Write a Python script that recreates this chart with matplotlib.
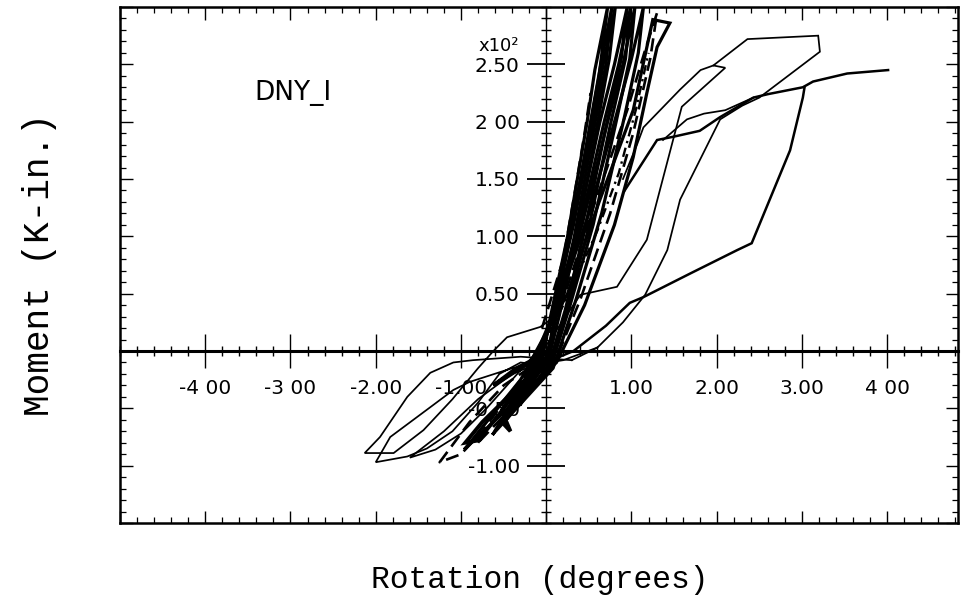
import matplotlib
matplotlib.use("Agg")
import matplotlib.pyplot as plt
from matplotlib.ticker import MultipleLocator

# ---------------- data (rotation in degrees, moment in K-in. x10^2) ----------------
# small near-elastic cycles (steep band)
cyc_01 = [(-0.22, -0.38), (-0.05, -0.08), (0.05, 0.30), (0.25, 1.00), (0.48, 2.00), (0.57, 2.45), (0.72, 3.00),
          (0.62, 2.40), (0.42, 1.55), (0.20, 0.70), (0.05, 0.10), (-0.05, -0.20), (-0.22, -0.38)]
cyc_02 = [(-0.30, -0.46), (-0.08, -0.10), (0.10, 0.40), (0.32, 1.10), (0.55, 2.00), (0.68, 2.55), (0.81, 3.00),
          (0.74, 2.55), (0.58, 1.90), (0.36, 1.00), (0.15, 0.30), (0.00, -0.15), (-0.30, -0.46)]
cyc_03 = [(-0.40, -0.52), (-0.12, -0.12), (0.12, 0.40), (0.36, 1.05), (0.63, 2.00), (0.80, 2.50), (0.95, 3.00),
          (0.88, 2.55), (0.70, 1.95), (0.45, 1.05), (0.22, 0.35), (0.02, -0.15), (-0.40, -0.52)]
cyc_04 = [(-0.50, -0.62), (-0.15, -0.15), (0.15, 0.45), (0.42, 1.10), (0.72, 2.00), (0.90, 2.50), (1.04, 3.00),
          (0.98, 2.55), (0.82, 2.00), (0.55, 1.10), (0.28, 0.40), (0.05, -0.15), (-0.50, -0.62)]
cyc_05 = [(-0.62, -0.72), (-0.20, -0.18), (0.18, 0.50), (0.50, 1.20), (0.82, 2.05), (1.00, 2.55), (1.14, 3.00),
          (1.08, 2.60), (0.92, 2.05), (0.65, 1.20), (0.35, 0.45), (0.08, -0.15), (-0.62, -0.72)]
cyc_06 = [(-0.80, -0.80), (-0.25, -0.22), (0.20, 0.45), (0.55, 1.25), (0.95, 2.10), (1.15, 2.60), (1.30, 2.95),
          (1.22, 2.55), (1.02, 1.90), (0.75, 1.20), (0.40, 0.45), (0.10, -0.10), (-0.80, -0.80)]
cyc_07 = [(-0.95, -0.85), (-0.30, -0.25), (0.25, 0.50), (0.62, 1.30), (1.02, 2.10), (1.25, 2.89), (1.45, 2.86),
          (1.30, 2.65), (1.18, 2.25), (1.02, 1.69), (0.80, 1.10), (0.45, 0.40), (0.12, -0.10), (-0.95, -0.85)]
cyc_08 = [(-0.55, -0.66), (-0.10, -0.05), (0.30, 0.55), (0.60, 1.05), (0.85, 1.55), (1.05, 2.10), (1.20, 2.60)]
cyc_09 = [(-0.35, -0.48), (-0.10, -0.12), (0.08, 0.35), (0.28, 1.00), (0.52, 2.00), (0.64, 2.50), (0.77, 3.00),
          (0.70, 2.50), (0.55, 1.90), (0.33, 1.00), (0.12, 0.30), (-0.02, -0.12), (-0.35, -0.48)]
cyc_10 = [(-0.45, -0.58), (-0.12, -0.14), (0.14, 0.45), (0.40, 1.10), (0.68, 2.00), (0.85, 2.50), (0.99, 3.00),
          (0.93, 2.55), (0.76, 2.00), (0.50, 1.08), (0.25, 0.38), (0.04, -0.14), (-0.45, -0.58)]
cyc_11 = [(-0.05, 0.20), (0.20, 0.80), (0.35, 1.45), (0.45, 1.90), (0.52, 2.25)]

# larger cycles on the positive side
loop_21 = [(0.00, 0.05), (0.40, 0.49), (0.83, 0.56), (1.18, 0.97), (1.59, 2.13), (2.10, 2.47), (1.96, 2.49),
           (1.81, 2.45), (1.57, 2.28), (1.14, 1.95), (1.07, 1.81), (0.90, 1.50)]
loop_32 = [(1.96, 2.49), (2.36, 2.72), (3.19, 2.75), (3.21, 2.61), (2.50, 2.21), (2.30, 2.14), (2.04, 2.02),
           (1.57, 1.32), (1.42, 0.88), (1.16, 0.49), (0.90, 0.25), (0.60, 0.03), (0.30, -0.08)]
curve_40 = [(0.92, 1.40), (1.30, 1.84), (1.50, 1.87), (1.80, 1.92), (2.04, 2.04), (2.43, 2.21), (2.60, 2.24),
            (3.01, 2.30), (3.13, 2.35), (3.53, 2.42), (4.01, 2.45)]
lens_40 = [(1.37, 1.84), (1.65, 2.02), (1.85, 2.07), (2.10, 2.10), (2.43, 2.21)]
reload_40 = [(-0.07, -0.12), (0.32, 0.00), (0.70, 0.22), (0.98, 0.42), (1.14, 0.47), (1.70, 0.68),
             (2.24, 0.88), (2.41, 0.94), (2.86, 1.75), (3.01, 2.21), (3.03, 2.30)]

# larger cycles on the negative side
neg_01 = [(0.30, -0.08), (-0.30, -0.05), (-0.86, -0.08), (-1.09, -0.10), (-1.36, -0.19), (-1.63, -0.40),
          (-1.95, -0.75), (-2.13, -0.89), (-1.79, -0.89), (-1.44, -0.69), (-1.10, -0.42), (-0.80, -0.15),
          (-0.62, 0.00), (-0.46, 0.12), (-0.07, 0.21), (0.10, 0.30)]
neg_02 = [(0.60, 0.03), (0.20, -0.08), (-0.40, -0.15), (-0.90, -0.27), (-1.09, -0.34), (-1.36, -0.49),
          (-1.83, -0.75), (-2.00, -0.97), (-1.63, -0.92), (-1.40, -0.85), (-1.10, -0.70), (-0.80, -0.45),
          (-0.55, -0.20), (-0.30, -0.10), (-0.07, -0.12)]
neg_03 = [(0.10, -0.05), (-0.40, -0.20), (-0.80, -0.42), (-1.20, -0.70), (-1.60, -0.93), (-1.30, -0.86),
          (-1.00, -0.72), (-0.70, -0.50), (-0.40, -0.25), (-0.10, 0.00)]
neg_04 = [(0.00, -0.05), (-0.50, -0.30), (-0.90, -0.62), (-1.25, -0.97), (-1.00, -0.90), (-0.75, -0.70),
          (-0.45, -0.40), (-0.15, -0.10)]
neg_05 = [(0.05, -0.05), (-0.45, -0.40), (-0.75, -0.62), (-0.95, -0.80), (-0.80, -0.78), (-0.55, -0.55),
          (-0.30, -0.30), (-0.05, -0.08)]
neg_06 = [(0.05, -0.05), (-0.30, -0.35), (-0.52, -0.62), (-0.42, -0.70), (-0.50, -0.56), (-0.25, -0.30)]
neg_07 = [(0.00, -0.02), (-0.35, -0.15), (-0.62, -0.30), (-0.45, -0.22), (-0.15, -0.08)]

series_solid = [cyc_01, cyc_02, cyc_03, cyc_04, cyc_05, cyc_07, cyc_09, cyc_10]
series_dashed = [cyc_06, neg_04, cyc_11]
series_dashdot = [cyc_08]
series_big = [loop_21, loop_32, lens_40, neg_01, neg_02, neg_03]
series_heavy = [curve_40, reload_40]
series_neg_small = [neg_05, neg_06, neg_07]

xtick_vals = [-4, -3, -2, -1, 1, 2, 3, 4]
xtick_text = ["-4 00", "-3 00", "-2.00", "-1.00", "1.00", "2.00", "3.00", "4 00"]
ytick_vals = [-1.0, -0.5, 0.5, 1.0, 1.5, 2.0, 2.5]
ytick_text = ["-1.00", "-0.50", "0.50", "1.00", "1.50", "2 00", "2.50"]

specimen = "DNY_I"
scale_text = "x10²"
x_label = "Rotation (degrees)"
y_label = "Moment (K-in.)"

# ---------------- figure ----------------
W, H = 980, 613
fig = plt.figure(figsize=(W / 100, H / 100), dpi=100)
pos = [120 / W, (H - 523) / H, (958 - 120) / W, (523 - 7) / H]
xlim = (-5.0, 4.83)
ylim = (-1.5, 3.0)

ax = fig.add_axes(pos)
ax.set_xlim(*xlim)
ax.set_ylim(*ylim)
for s in ax.spines.values():
    s.set_linewidth(1.8)
ax.xaxis.set_major_locator(MultipleLocator(1))
ax.xaxis.set_minor_locator(MultipleLocator(0.2))
ax.yaxis.set_major_locator(MultipleLocator(0.5))
ax.yaxis.set_minor_locator(MultipleLocator(0.1))
ax.tick_params(which="both", direction="in", top=True, right=True,
               labelbottom=False, labelleft=False)
ax.tick_params(which="major", length=9, width=1.0)
ax.tick_params(which="minor", length=4, width=0.9)


def draw(pts, **kw):
    xs = [p[0] for p in pts]
    ys = [p[1] for p in pts]
    ax.plot(xs, ys, color="black", solid_joinstyle="miter", **kw)


for c in series_big:
    draw(c, lw=1.25)
for c in series_solid:
    draw(c, lw=2.3)
for c in series_dashed:
    draw(c, lw=1.9, linestyle=(0, (5, 2.5)))
for c in series_dashdot:
    draw(c, lw=1.7, linestyle=(0, (4, 2, 1, 2)))
for c in series_heavy:
    draw(c, lw=1.8)
for c in series_neg_small:
    draw(c, lw=2.8)

# central axes crossing at the origin
ax2 = fig.add_axes(pos)
ax2.set_xlim(*xlim)
ax2.set_ylim(*ylim)
ax2.patch.set_visible(False)
ax2.spines["top"].set_visible(False)
ax2.spines["right"].set_visible(False)
ax2.spines["bottom"].set_position(("data", 0))
ax2.spines["left"].set_position(("data", 0))
ax2.spines["bottom"].set_linewidth(2.2)
ax2.spines["left"].set_linewidth(1.0)
ax2.set_xticks(xtick_vals, xtick_text)
ax2.set_yticks(ytick_vals, ytick_text)
ax2.xaxis.set_minor_locator(MultipleLocator(0.2))
ax2.yaxis.set_minor_locator(MultipleLocator(0.1))
ax2.tick_params(axis="x", which="major", direction="inout", length=24, width=1.0, pad=8,
                labelsize=14.5)
ax2.tick_params(axis="y", which="major", direction="inout", length=28, width=1.3, pad=5,
                labelsize=14.5)
ax2.tick_params(which="minor", direction="inout", length=7, width=1.0)
for t in ax2.get_xticklabels() + ax2.get_yticklabels():
    t.set_fontfamily("DejaVu Sans")

fig.text(293 / W, 1 - 93 / H, specimen, ha="center", va="center", fontsize=19,
         family="DejaVu Sans")
fig.text(519 / W, 1 - 46 / H, scale_text, ha="right", va="center", fontsize=13,
         family="DejaVu Sans")
fig.text(540 / W, 1 - 580 / H, x_label, ha="center", va="center", fontsize=22.5,
         family="Liberation Mono")
fig.text(40 / W, 1 - 265 / H, y_label, ha="center", va="center", fontsize=26,
         family="Liberation Mono", rotation=90)

fig.savefig("out.png", dpi=100)
